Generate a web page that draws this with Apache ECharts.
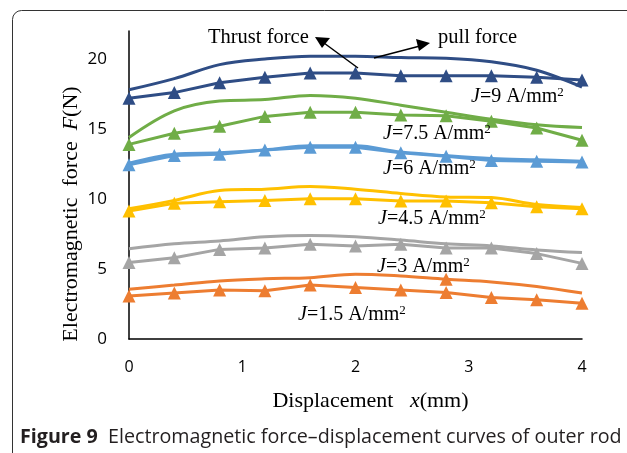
<!DOCTYPE html>
<html><head><meta charset="utf-8">
<script src="https://cdn.jsdelivr.net/npm/echarts@6/dist/echarts.min.js"></script>
<style>html,body{margin:0;padding:0;background:#fff}#c{width:627px;height:453px}</style>
</head><body><div id="c"></div>
<script>
var xValues = [0, 0.4, 0.8, 1.2, 1.6, 2.0, 2.4, 2.8, 3.2, 3.6, 4.0];
var yTicks = [0, 5, 10, 15, 20];
var xTicks = [0, 1, 2, 3, 4];
// J = 9 A/mm2
var j9Thrust = [17.2, 17.6, 18.3, 18.7, 19.0, 19.0, 18.8, 18.8, 18.8, 18.7, 18.5];
var j9Pull   = [17.8, 18.6, 19.6, 20.0, 20.2, 20.2, 20.1, 20.05, 19.8, 19.2, 18.0];
// J = 7.5
var j75Thrust = [13.9, 14.7, 15.2, 15.9, 16.2, 16.2, 16.0, 15.95, 15.55, 15.07, 14.2];
var j75Pull   = [14.4, 16.3, 17.0, 17.1, 17.4, 17.2, 16.7, 16.2, 15.7, 15.3, 15.1];
// J = 6
var j6Thrust = [12.45, 13.1, 13.2, 13.5, 13.7, 13.7, 13.3, 13.05, 12.75, 12.7, 12.65];
var j6Pull   = [12.55, 13.2, 13.3, 13.5, 13.8, 13.8, 13.35, 13.1, 12.9, 12.8, 12.7];
// J = 4.5
var j45Thrust = [9.14, 9.7, 9.8, 9.9, 10.02, 10.02, 9.85, 9.85, 9.73, 9.45, 9.3];
var j45Pull   = [9.3, 9.9, 10.6, 10.7, 10.9, 10.7, 10.4, 10.15, 10.1, 9.6, 9.4];
// J = 3
var j3Thrust = [5.46, 5.8, 6.4, 6.5, 6.77, 6.65, 6.77, 6.5, 6.5, 6.1, 5.4];
var j3Pull   = [6.45, 6.8, 7.0, 7.3, 7.4, 7.3, 7.07, 6.8, 6.65, 6.36, 6.17];
// J = 1.5
var j15Thrust = [3.08, 3.28, 3.5, 3.45, 3.85, 3.68, 3.5, 3.32, 2.96, 2.8, 2.56];
var j15Pull   = [3.56, 3.85, 4.15, 4.3, 4.38, 4.63, 4.5, 4.27, 4.08, 3.75, 3.28];

var colors = {j9:'#2F4D85', j75:'#70AD47', j6:'#5B9BD5', j45:'#FFC000', j3:'#A5A5A5', j15:'#ED7D31'};

function pairs(arr){ return xValues.map(function(x,i){ return [x, arr[i]]; }); }
function thrust(arr, c){
  return {type:'line', data:pairs(arr), symbol:'triangle', symbolSize:13, smooth:false,
    lineStyle:{color:c, width:3}, itemStyle:{color:c}, z:3};
}
function pull(arr, c, markIdx){
  var d = pairs(arr).map(function(p,i){
    if (markIdx !== undefined && i === markIdx) return {value:p, symbol:'triangle', symbolSize:13};
    return {value:p, symbol:'none'};
  });
  return {type:'line', data:d, symbol:'none', showSymbol:true, smooth:0.35,
    lineStyle:{color:c, width:3}, itemStyle:{color:c}, z:2};
}

var serif = '"Liberation Serif","DejaVu Serif",serif';
function jLabel(left, top, val){
  return {type:'text', left:left, top:top, z:10, style:{
    text:'{i|J}{n|=' + val + ' A/mm}{s|2}',
    rich:{
      i:{fontFamily:serif, fontStyle:'italic', fontSize:20, fill:'#000'},
      n:{fontFamily:serif, fontSize:20, fill:'#000'},
      s:{fontFamily:serif, fontSize:13, fill:'#000', verticalAlign:'top', padding:[0,0,9,0]}
    }}};
}

var chart = echarts.init(document.getElementById('c'), null, {renderer:'canvas'});
chart.setOption({
  animation:false,
  backgroundColor:'#fff',
  grid:{left:129, right:45, top:31, bottom:114, containLabel:false},
  xAxis:{type:'value', min:0, max:4, interval:1,
    axisLine:{show:true, onZero:false, lineStyle:{color:'#000', width:1.5}},
    axisTick:{show:false}, splitLine:{show:false},
    axisLabel:{fontFamily:'"Open Sans",sans-serif', fontSize:16, color:'#000', margin:20,
      formatter:function(v){ return xTicks.indexOf(v) >= 0 ? String(v) : ''; }},
    name:'{n|Displacement   }{i|x}{n|(mm)}', nameLocation:'middle', nameGap:51,
    nameTextStyle:{padding:[0,0,0,30], rich:{
      n:{fontFamily:serif, fontSize:22, color:'#000'},
      i:{fontFamily:serif, fontSize:22, fontStyle:'italic', color:'#000'}}}
  },
  yAxis:{type:'value', min:0, max:22, interval:5,
    axisLine:{show:true, lineStyle:{color:'#000', width:1.5}},
    axisTick:{show:false}, splitLine:{show:false},
    axisLabel:{fontFamily:'"Open Sans",sans-serif', fontSize:17, color:'#000', margin:22,
      showMaxLabel:false,
      formatter:function(v){ return yTicks.indexOf(v) >= 0 ? String(v) : ''; }}
  },
  series:[
    pull(j9Pull, colors.j9), thrust(j9Thrust, colors.j9),
    pull(j75Pull, colors.j75), thrust(j75Thrust, colors.j75),
    pull(j6Pull, colors.j6), thrust(j6Thrust, colors.j6),
    pull(j45Pull, colors.j45), thrust(j45Thrust, colors.j45),
    pull(j3Pull, colors.j3), thrust(j3Thrust, colors.j3),
    pull(j15Pull, colors.j15, 7), thrust(j15Thrust, colors.j15)
  ],
  graphic:[
    {type:'rect', shape:{x:12.5, y:10.5, width:700, height:500, r:9}, z:-1,
      style:{fill:'none', stroke:'#333', lineWidth:1}},
    {type:'text', x:71, y:214, rotation:Math.PI/2, z:10, style:{
      text:'{n|Electromagnetic  force  }{i|F}{n|(N)}', align:'center', verticalAlign:'middle',
      rich:{
        n:{fontFamily:serif, fontSize:22, fill:'#000'},
        i:{fontFamily:serif, fontSize:22, fontStyle:'italic', fill:'#000'}}}},
    {type:'text', left:208, top:27, z:10, style:{text:'Thrust force', fontFamily:serif, fontSize:20.5, fill:'#000'}},
    {type:'text', left:438, top:27, z:10, style:{text:'pull force', fontFamily:serif, fontSize:20.5, fill:'#000'}},
    {type:'line', z:10, shape:{x1:358, y1:68, x2:324, y2:43}, style:{stroke:'#000', lineWidth:1.5}},
    {type:'polygon', z:10, shape:{points:[[315,37],[330,38],[322,48]]}, style:{fill:'#000'}},
    {type:'line', z:10, shape:{x1:374, y1:58, x2:420, y2:46}, style:{stroke:'#000', lineWidth:1.5}},
    {type:'polygon', z:10, shape:{points:[[430,43],[416,39],[419,51]]}, style:{fill:'#000'}},
    jLabel(471, 86, '9'),
    jLabel(383, 123, '7.5'),
    jLabel(383, 158, '6'),
    jLabel(378, 208, '4.5'),
    jLabel(377, 256, '3'),
    jLabel(298, 304, '1.5'),
    {type:'text', left:20, top:427, z:10, style:{
      text:'{b|Figure 9}{n|  Electromagnetic force\u2013displacement curves of outer rod}',
      rich:{
        b:{fontFamily:'"Open Sans",sans-serif', fontWeight:'bold', fontSize:19.7, fill:'#231F20'},
        n:{fontFamily:'"Open Sans",sans-serif', fontSize:19.7, fill:'#231F20'}
      }}}
  ]
});
</script></body></html>
